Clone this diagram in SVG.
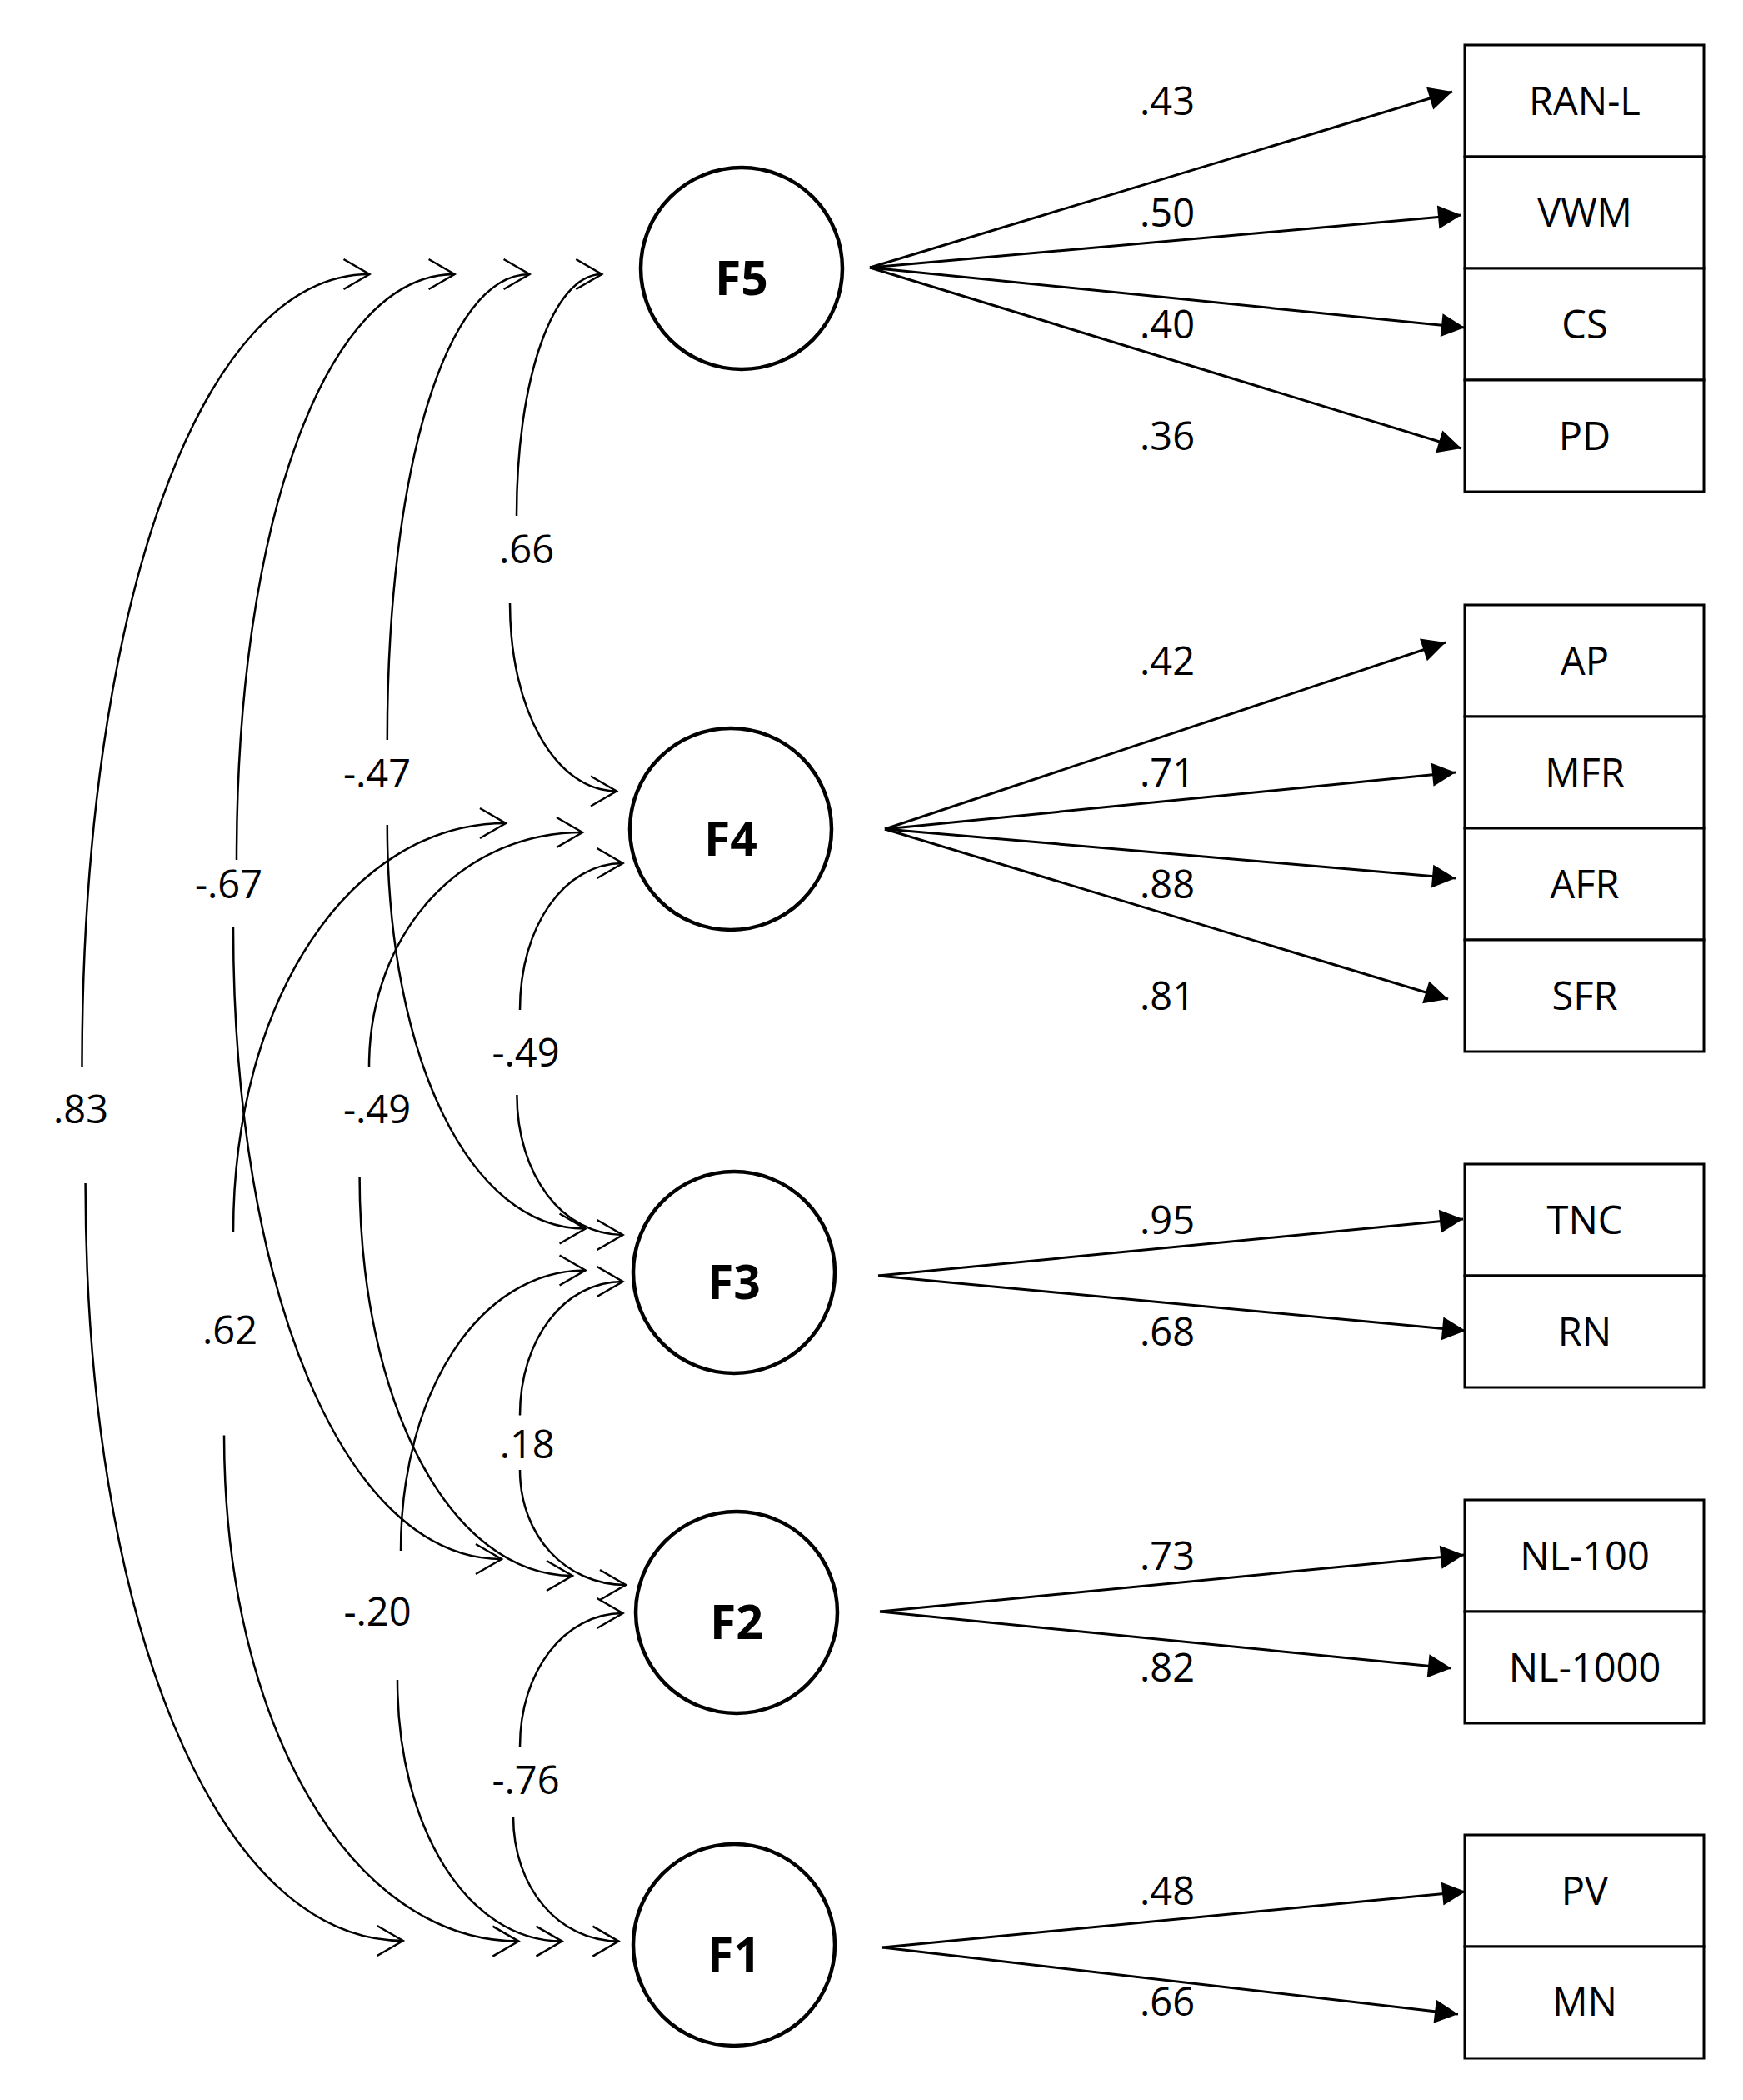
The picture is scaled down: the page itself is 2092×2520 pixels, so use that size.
<svg xmlns="http://www.w3.org/2000/svg" width="2092" height="2520" viewBox="0 0 2092 2520">
<style>
  text { font-family: "Open Sans", "Liberation Sans", sans-serif; fill: #000; }
  .lbl { font-size: 47px; text-anchor: middle; }
  .fac { font-size: 57px; font-weight: bold; text-anchor: middle; }
  .circ { fill: #fff; stroke: #000; stroke-width: 4.5; }
  .box { fill: #fff; stroke: #000; stroke-width: 3; }
  .load { fill: none; stroke: #000; stroke-width: 3; marker-end: url(#tri); }
  .cova { fill: none; stroke: #000; stroke-width: 2.5; marker-end: url(#chev); }
</style>
<defs>
  <marker id="tri" markerUnits="userSpaceOnUse" orient="auto" refX="0" refY="0" markerWidth="40" markerHeight="40" viewBox="-30 -20 40 40" overflow="visible">
    <path d="M -28,-14 L 0,0 L -28,14 Z" fill="#000" stroke="none"/>
  </marker>
  <marker id="chev" markerUnits="userSpaceOnUse" orient="auto" refX="0" refY="0" markerWidth="40" markerHeight="40" viewBox="-35 -20 40 40" overflow="visible">
    <path d="M -31,-18 L 0,0 L -31,18" fill="none" stroke="#000" stroke-width="2.5"/>
  </marker>
</defs>
<rect x="0" y="0" width="2092" height="2520" fill="#fff"/>

<g id="connectors">
  <line class="load" x1="1044" y1="321" x2="1743" y2="110"/>
  <line class="load" x1="1044" y1="321" x2="1754" y2="258"/>
  <line class="load" x1="1044" y1="321" x2="1758" y2="393"/>
  <line class="load" x1="1044" y1="321" x2="1754" y2="538"/>
  <line class="load" x1="1062" y1="995" x2="1735" y2="771"/>
  <line class="load" x1="1062" y1="995" x2="1747" y2="927"/>
  <line class="load" x1="1062" y1="995" x2="1747" y2="1054"/>
  <line class="load" x1="1062" y1="995" x2="1738" y2="1199"/>
  <line class="load" x1="1054" y1="1531" x2="1756" y2="1463"/>
  <line class="load" x1="1054" y1="1531" x2="1759" y2="1597"/>
  <line class="load" x1="1056" y1="1934" x2="1757" y2="1866"/>
  <line class="load" x1="1056" y1="1934" x2="1742" y2="2002"/>
  <line class="load" x1="1059" y1="2337" x2="1759" y2="2270"/>
  <line class="load" x1="1059" y1="2337" x2="1750" y2="2417"/>

  <g id="loading-labels">
    <text class="lbl" x="1401" y="138">.43</text>
    <text class="lbl" x="1401" y="272">.50</text>
    <text class="lbl" x="1401" y="406">.40</text>
    <text class="lbl" x="1401" y="540">.36</text>
    <text class="lbl" x="1401" y="810">.42</text>
    <text class="lbl" x="1401" y="944">.71</text>
    <text class="lbl" x="1401" y="1078">.88</text>
    <text class="lbl" x="1401" y="1212">.81</text>
    <text class="lbl" x="1401" y="1481">.95</text>
    <text class="lbl" x="1401" y="1615">.68</text>
    <text class="lbl" x="1401" y="1884">.73</text>
    <text class="lbl" x="1401" y="2018">.82</text>
    <text class="lbl" x="1401" y="2286">.48</text>
    <text class="lbl" x="1401" y="2419">.66</text>
  </g>

  <g id="cov-F5-F1">
    <path class="cova" d="M 98.5,1281 C 98.5,730 240,329 443.5,329"/>
    <path class="cova" d="M 102.6,1420 C 102.6,1945 260,2329 483.7,2329"/>
    <text class="lbl" x="97" y="1348">.83</text>
  </g>
  <g id="cov-F5-F2">
    <path class="cova" d="M 284,1032 C 284,625 392,329 545.6,329"/>
    <path class="cova" d="M 280,1113 C 280,1550 414,1871 602,1871"/>
    <text class="lbl" x="274.5" y="1078">-.67</text>
  </g>
  <g id="cov-F5-F3">
    <path class="cova" d="M 464.8,888 C 464.8,565 535,329 635.6,329"/>
    <path class="cova" d="M 464.8,990 C 464.8,1270 564,1474.5 702.6,1474.5"/>
    <text class="lbl" x="452.5" y="944.5">-.47</text>
  </g>
  <g id="cov-F5-F4">
    <path class="cova" d="M 620,619 C 620,453.7 664,329 722.3,329"/>
    <path class="cova" d="M 612,724 C 612,852.5 667,949.5 740,949.5"/>
    <text class="lbl" x="632" y="676">.66</text>
  </g>
  <g id="cov-F4-F1">
    <path class="cova" d="M 280,1478.6 C 280,1199 420.6,988 607,988"/>
    <path class="cova" d="M 269,1722.4 C 269,2068.5 421,2329.6 622.4,2329.6"/>
    <text class="lbl" x="276" y="1613">.62</text>
  </g>
  <g id="cov-F4-F2">
    <path class="cova" d="M 443,1280 C 443,1119.8 553.1,999 699,999"/>
    <path class="cova" d="M 431.6,1412 C 431.6,1685 541.4,1891 687,1891"/>
    <text class="lbl" x="452.5" y="1348">-.49</text>
  </g>
  <g id="cov-F4-F3">
    <path class="cova" d="M 624,1212 C 624,1111.7 677.1,1036 747.5,1036"/>
    <path class="cova" d="M 620.4,1314 C 620.4,1409.8 675.1,1482 747.5,1482"/>
    <text class="lbl" x="631" y="1280">-.49</text>
  </g>
  <g id="cov-F3-F2">
    <path class="cova" d="M 624,1698.5 C 624,1607 677.1,1538 747.5,1538"/>
    <path class="cova" d="M 624,1764 C 624,1842.7 678.6,1902 751,1902"/>
    <text class="lbl" x="632.7" y="1750">.18</text>
  </g>
  <g id="cov-F3-F1">
    <path class="cova" d="M 481,1861 C 481,1669.2 576.3,1524.5 702.6,1524.5"/>
    <path class="cova" d="M 477,2016 C 477,2194.8 561.9,2329.6 674.5,2329.6"/>
    <text class="lbl" x="453" y="1951">-.20</text>
  </g>
  <g id="cov-F2-F1">
    <path class="cova" d="M 624,2096 C 624,2005.8 677.1,1936 747.5,1936"/>
    <path class="cova" d="M 616,2180 C 616,2265.3 670.4,2329.6 742.4,2329.6"/>
    <text class="lbl" x="631" y="2153">-.76</text>
  </g>
</g>

<g id="F5"><circle class="circ" cx="890" cy="322" r="121"/><text class="fac" x="890" y="354">F5</text></g>
<g id="F4"><circle class="circ" cx="877" cy="995" r="121"/><text class="fac" x="877" y="1027">F4</text></g>
<g id="F3"><circle class="circ" cx="881" cy="1527" r="121"/><text class="fac" x="881" y="1559">F3</text></g>
<g id="F2"><circle class="circ" cx="884" cy="1935" r="121"/><text class="fac" x="884" y="1967">F2</text></g>
<g id="F1"><circle class="circ" cx="881" cy="2334" r="121"/><text class="fac" x="881" y="2366">F1</text></g>

<g id="RAN-L"><rect class="box" x="1758" y="54" width="287" height="134"/><text class="lbl" x="1902" y="138">RAN-L</text></g>
<g id="VWM"><rect class="box" x="1758" y="188" width="287" height="134"/><text class="lbl" x="1902" y="272">VWM</text></g>
<g id="CS"><rect class="box" x="1758" y="322" width="287" height="134"/><text class="lbl" x="1902" y="406">CS</text></g>
<g id="PD"><rect class="box" x="1758" y="456" width="287" height="134"/><text class="lbl" x="1902" y="540">PD</text></g>

<g id="AP"><rect class="box" x="1758" y="726" width="287" height="134"/><text class="lbl" x="1902" y="810">AP</text></g>
<g id="MFR"><rect class="box" x="1758" y="860" width="287" height="134"/><text class="lbl" x="1902" y="944">MFR</text></g>
<g id="AFR"><rect class="box" x="1758" y="994" width="287" height="134"/><text class="lbl" x="1902" y="1078">AFR</text></g>
<g id="SFR"><rect class="box" x="1758" y="1128" width="287" height="134"/><text class="lbl" x="1902" y="1212">SFR</text></g>

<g id="TNC"><rect class="box" x="1758" y="1397" width="287" height="134"/><text class="lbl" x="1902" y="1481">TNC</text></g>
<g id="RN"><rect class="box" x="1758" y="1531" width="287" height="134"/><text class="lbl" x="1902" y="1615">RN</text></g>

<g id="NL-100"><rect class="box" x="1758" y="1800" width="287" height="134"/><text class="lbl" x="1902" y="1884">NL-100</text></g>
<g id="NL-1000"><rect class="box" x="1758" y="1934" width="287" height="134"/><text class="lbl" x="1902" y="2018">NL-1000</text></g>

<g id="PV"><rect class="box" x="1758" y="2202" width="287" height="134"/><text class="lbl" x="1902" y="2286">PV</text></g>
<g id="MN"><rect class="box" x="1758" y="2336" width="287" height="134"/><text class="lbl" x="1902" y="2419">MN</text></g>
</svg>
